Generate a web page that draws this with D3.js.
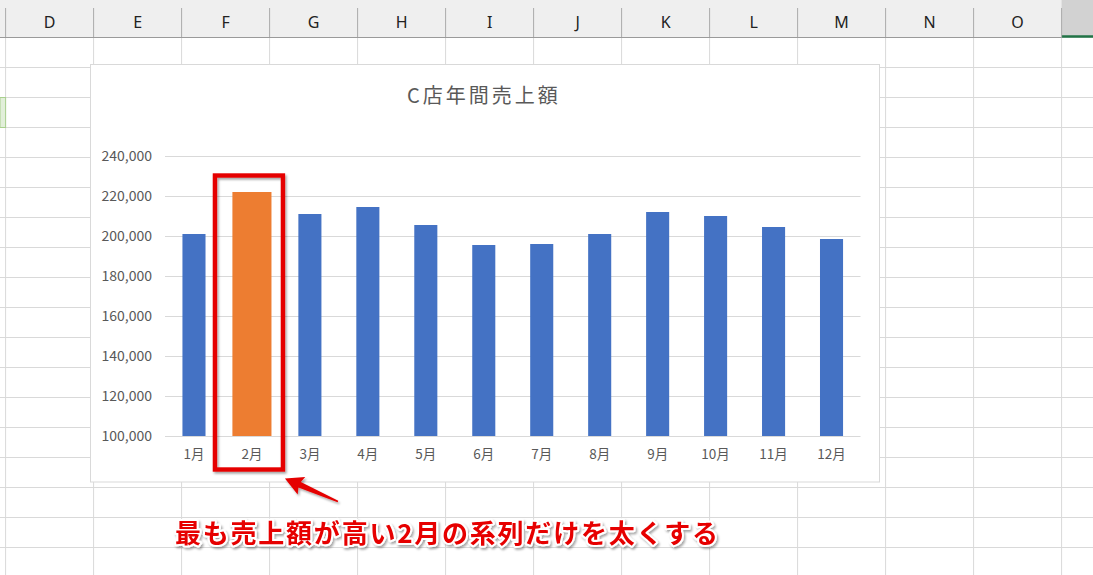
<!DOCTYPE html>
<html>
<head>
<meta charset="utf-8">
<script src="https://cdn.jsdelivr.net/npm/d3@7/dist/d3.min.js"></script>
<style>
  html, body { margin: 0; padding: 0; background: #fff; }
  svg { display: block; }
</style>
</head>
<body>
<svg id="sheet" width="1093" height="575"></svg>
<script>
// chart values
const months = ["1月", "2月", "3月", "4月", "5月", "6月", "7月", "8月", "9月", "10月", "11月", "12月"];
const sales = [201000, 222000, 211000, 214500, 205500, 195500, 196000, 201000, 212000, 210000, 204500, 198500];
const yTicks = [100000, 120000, 140000, 160000, 180000, 200000, 220000, 240000];
const highlightMonth = "2月";
const chartTitle = "C店年間売上額";
const note = "最も売上額が高い2月の系列だけを太くする";
const sheetColumns = ["D", "E", "F", "G", "H", "I", "J", "K", "L", "M", "N", "O", ""];

const svg = d3.select("#sheet");
const width = +svg.attr("width");
const height = +svg.attr("height");
const font = "'Noto Sans CJK JP', 'Noto Sans', sans-serif";

const defs = svg.append("defs");
const shadow = defs.append("filter").attr("id", "shadow")
    .attr("x", "-10%").attr("y", "-30%").attr("width", "130%").attr("height", "180%");
shadow.append("feDropShadow").attr("dx", 1.5).attr("dy", 2).attr("stdDeviation", 1.2)
    .attr("flood-color", "#000").attr("flood-opacity", 0.35);

// --- spreadsheet background ---
const colW = 88, colX0 = 5.6, headerH = 37.5, rowH = 30;
const grid = svg.append("g");
d3.range(0, 14).forEach((i) => {
    const x = colX0 + i * colW;
    grid.append("line").attr("x1", x).attr("x2", x).attr("y1", headerH).attr("y2", height)
        .attr("stroke", "#d9d9d9");
});
d3.range(0, 18).forEach((i) => {
    const y = headerH + 30 + i * rowH;
    grid.append("line").attr("x1", 0).attr("x2", width).attr("y1", y).attr("y2", y)
        .attr("stroke", "#d9d9d9");
});
// bit of a green cell at the left edge
grid.append("rect").attr("x", 0).attr("y", headerH + 60).attr("width", colX0).attr("height", rowH)
    .attr("fill", "#e2efda").attr("stroke", "#a9d08e");

const header = svg.append("g");
header.append("rect").attr("x", 0).attr("y", 0).attr("width", width).attr("height", headerH)
    .attr("fill", "#efefef");
sheetColumns.forEach((c, i) => {
    const x = colX0 + i * colW;
    if (c === "") {
        // selected column, cut off at the right edge
        header.append("rect").attr("x", x).attr("y", 0).attr("width", colW).attr("height", headerH)
            .attr("fill", "#d2d2d2");
        header.append("line").attr("x1", x).attr("x2", x + colW).attr("y1", headerH - 1).attr("y2", headerH - 1)
            .attr("stroke", "#217346").attr("stroke-width", 2.5);
    }
    header.append("line").attr("x1", x).attr("x2", x).attr("y1", 8).attr("y2", headerH)
        .attr("stroke", "#ababab");
    header.append("text").attr("x", x + colW / 2).attr("y", 28)
        .attr("text-anchor", "middle").attr("font-family", "'Noto Sans', sans-serif")
        .attr("font-size", 16).attr("fill", "#222").text(c);
});
header.append("line").attr("x1", 0).attr("x2", colX0 + 12 * colW).attr("y1", headerH).attr("y2", headerH)
    .attr("stroke", "#9a9a9a");

// --- chart object ---
const frame = { x: 90.5, y: 64.5, w: 789, h: 417.5 };
svg.append("rect").attr("x", frame.x).attr("y", frame.y).attr("width", frame.w).attr("height", frame.h)
    .attr("fill", "#fff").attr("stroke", "#d9d9d9");

svg.append("text").attr("x", 484).attr("y", 103)
    .attr("text-anchor", "middle").attr("font-family", font).attr("font-size", 20)
    .attr("letter-spacing", 3).attr("fill", "#595959").text(chartTitle);

const x = d3.scaleBand().domain(months).range([165, 860.5]);
const y = d3.scaleLinear().domain([100000, 240000]).range([436, 156]);

svg.append("g").selectAll("line").data(yTicks).join("line")
    .attr("x1", 165).attr("x2", 860.5)
    .attr("y1", (d) => Math.round(y(d)) + 0.5).attr("y2", (d) => Math.round(y(d)) + 0.5)
    .attr("stroke", "#d9d9d9");

const yAxis = svg.append("g").attr("transform", "translate(152,0)")
    .call(d3.axisLeft(y).tickValues(yTicks).tickSize(0).tickPadding(0).tickFormat(d3.format(",")));
yAxis.select(".domain").remove();
yAxis.selectAll("text").attr("font-family", font).attr("font-size", 14).attr("fill", "#595959");

const barW = (m) => x.bandwidth() * (m === highlightMonth ? 0.674 : 0.398);
svg.append("g").selectAll("rect").data(months).join("rect")
    .attr("x", (m) => x(m) + x.bandwidth() / 2 - barW(m) / 2)
    .attr("width", barW)
    .attr("y", (m, i) => y(sales[i]))
    .attr("height", (m, i) => y(100000) - y(sales[i]))
    .attr("fill", (m) => (m === highlightMonth ? "#ed7d31" : "#4472c4"));

const xAxis = svg.append("g").attr("transform", "translate(0,452)")
    .call(d3.axisBottom(x).tickSize(0).tickPadding(0));
xAxis.select(".domain").remove();
xAxis.selectAll("text").attr("font-family", font).attr("font-size", 13.5).attr("fill", "#595959")
    .attr("dy", "0.5em");

// --- red box around the highlighted month ---
const cx = x(highlightMonth) + x.bandwidth() / 2;
const box = { x0: cx - 37, x1: cx + 31, y0: 175.5, y1: 469.5 };
svg.append("rect").attr("x", box.x0).attr("y", box.y0)
    .attr("width", box.x1 - box.x0).attr("height", box.y1 - box.y0)
    .attr("fill", "none").attr("stroke", "#e50000").attr("stroke-width", 4.4)
    .attr("filter", "url(#shadow)");

// --- arrow ---
const tip = [box.x1 + 2, box.y1 + 9];
const tail = [tip[0] + 53, tip[1] + 23];
const len = Math.hypot(tail[0] - tip[0], tail[1] - tip[1]);
const u = [(tail[0] - tip[0]) / len, (tail[1] - tip[1]) / len];
const p = [-u[1], u[0]];
const at = (d, w) => [tip[0] + u[0] * d + p[0] * w, tip[1] + u[1] * d + p[1] * w];
const arrowPts = [tip, at(18, 9.5), at(16, 3), [tail[0] + p[0] * 0.8, tail[1] + p[1] * 0.8],
    [tail[0] - p[0] * 0.8, tail[1] - p[1] * 0.8], at(16, -3), at(18, -9.5)];
svg.append("path").attr("d", d3.line()(arrowPts) + "Z")
    .attr("fill", "#e50000").attr("filter", "url(#shadow)");

// --- note text ---
svg.append("text").attr("x", 175).attr("y", 543)
    .attr("font-family", font).attr("font-size", 26).attr("font-weight", 700)
    .attr("textLength", 543).attr("lengthAdjust", "spacing")
    .attr("fill", "#e60000").attr("stroke", "#fff").attr("stroke-width", 4)
    .attr("stroke-linejoin", "round").attr("paint-order", "stroke")
    .attr("filter", "url(#shadow)").text(note);
</script>
</body>
</html>
